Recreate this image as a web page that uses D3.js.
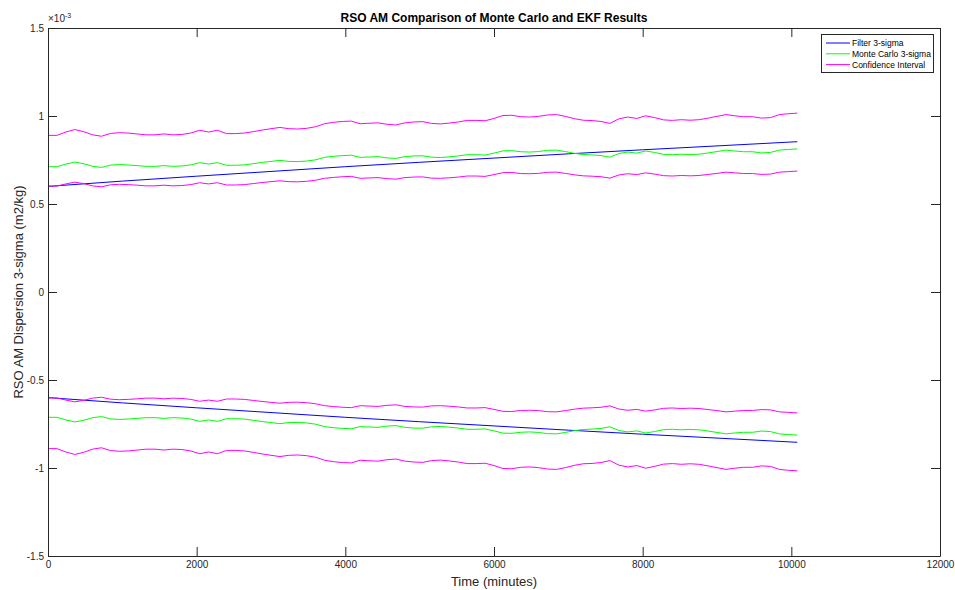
<!DOCTYPE html>
<html>
<head>
<meta charset="utf-8">
<script src="https://cdn.jsdelivr.net/npm/d3@7"></script>
<style>
  html, body { margin: 0; padding: 0; background: #fff; }
  svg { display: block; font-family: "Liberation Sans", Arial, Helvetica, sans-serif; }
</style>
</head>
<body>
<svg id="chart" width="955" height="590"></svg>
<script>
// ---- Data (values in units of 1e-3 m2/kg) ----
const times = [0,120,240,360,480,600,720,840,960,1080,1200,1320,1440,1560,1680,1800,1920,2040,2160,2280,2400,2520,2640,2760,2880,3000,3120,3240,3360,3480,3600,3720,3840,3960,4080,4200,4320,4440,4560,4680,4800,4920,5040,5160,5280,5400,5520,5640,5760,5880,6000,6120,6240,6360,6480,6600,6720,6840,6960,7080,7200,7320,7440,7560,7680,7800,7920,8040,8160,8280,8400,8520,8640,8760,8880,9000,9120,9240,9360,9480,9600,9720,9840,9960,10080];

const mcSigma = [.712,.712,.727,.738,.729,.714,.708,.721,.724,.722,.718,.714,.714,.718,.714,.716,.722,.735,.727,.735,.720,.720,.722,.729,.736,.742,.748,.742,.741,.744,.751,.765,.771,.775,.777,.765,.767,.769,.762,.759,.769,.773,.774,.766,.764,.768,.773,.780,.780,.778,.789,.802,.803,.797,.795,.798,.805,.806,.798,.788,.781,.779,.775,.766,.787,.795,.789,.801,.793,.782,.780,.783,.781,.783,.790,.798,.806,.801,.797,.797,.790,.793,.806,.810,.813];

const ciHigh = [.890,.890,.909,.923,.911,.893,.885,.901,.905,.903,.898,.893,.893,.898,.893,.895,.903,.919,.909,.919,.900,.900,.903,.911,.920,.928,.935,.928,.926,.930,.939,.956,.964,.969,.971,.956,.959,.961,.953,.949,.961,.966,.968,.958,.955,.960,.966,.975,.975,.973,.986,1.003,1.004,.996,.994,.998,1.006,1.008,.998,.985,.976,.974,.969,.958,.984,.994,.986,1.001,.991,.978,.975,.979,.976,.979,.988,.998,1.008,1.001,.996,.996,.988,.991,1.008,1.013,1.016];

const ciLow = [.602,.602,.614,.624,.616,.603,.598,.609,.612,.610,.607,.603,.603,.607,.603,.605,.610,.621,.614,.621,.608,.608,.610,.616,.622,.627,.632,.627,.626,.629,.635,.646,.651,.655,.657,.646,.648,.650,.644,.641,.650,.653,.654,.647,.646,.649,.653,.659,.659,.657,.667,.678,.679,.673,.672,.674,.680,.681,.674,.666,.660,.658,.655,.647,.665,.672,.667,.677,.670,.661,.659,.662,.660,.662,.668,.674,.681,.677,.673,.673,.668,.670,.681,.684,.687];

const filterTimes = [0,1000,2000,3000,4000,5000,6000,7000,8000,9000,10080];
const filterSigma = [.600,.630,.658,.685,.712,.737,.761,.785,.808,.830,.854];

const xTicks = [0,2000,4000,6000,8000,10000,12000];
const yTicks = [-1.5,-1,-0.5,0,0.5,1,1.5];
const yTickLabels = ["-1.5","-1","-0.5","0","0.5","1","1.5"];

const legendNames = ["Filter 3-sigma","Monte Carlo 3-sigma","Confidence Interval"];
const legendColors = ["#0000ff","#00ff00","#ff00ff"];

// ---- Layout ----
const svg = d3.select("#chart");
const L = 48, R = 940, T = 28, B = 556;
const x = d3.scaleLinear().domain([0, 12000]).range([L, R]);
const y = d3.scaleLinear().domain([-1.5, 1.5]).range([B, T]);
const axisColor = "#262626";

// ---- Lines ----
const line = d3.line().x(d => x(d[0])).y(d => y(d[1]));
function draw(ts, vs, sign, color) {
  const pts = ts.map((t, i) => [t, sign * vs[i]]);
  svg.append("path").datum(pts).attr("d", line)
    .attr("fill", "none").attr("stroke", color).attr("stroke-width", 1);
}
[1, -1].forEach(s => {
  draw(filterTimes, filterSigma, s, legendColors[0]);
  draw(times, mcSigma, s, legendColors[1]);
  draw(times, ciHigh, s, legendColors[2]);
  draw(times, ciLow, s, legendColors[2]);
});

// ---- Axes (box with inward ticks) ----
const tickLen = 9;
const ax = svg.append("g");
ax.append("g").attr("transform", `translate(0,${B})`)
  .call(d3.axisBottom(x).tickValues(xTicks).tickFormat(d3.format("d")).tickSizeInner(-tickLen).tickSizeOuter(0).tickPadding(5));
ax.append("g").attr("transform", `translate(0,${T})`)
  .call(d3.axisTop(x).tickValues(xTicks).tickFormat("").tickSizeInner(-tickLen).tickSizeOuter(0));
ax.append("g").attr("transform", `translate(${L},0)`)
  .call(d3.axisLeft(y).tickValues(yTicks).tickFormat((d, i) => yTickLabels[i]).tickSizeInner(-tickLen).tickSizeOuter(0).tickPadding(4));
ax.append("g").attr("transform", `translate(${R},0)`)
  .call(d3.axisRight(y).tickValues(yTicks).tickFormat("").tickSizeInner(-tickLen).tickSizeOuter(0));
ax.selectAll(".domain, line").attr("stroke", axisColor).attr("stroke-width", 1);
ax.selectAll("text").attr("fill", axisColor).attr("font-size", 10)
  .attr("font-family", "'Liberation Sans', Arial, sans-serif");

// exponent label
const ex = svg.append("text").attr("x", L).attr("y", T - 6)
  .attr("font-size", 10).attr("fill", axisColor);
ex.append("tspan").text("\u00d710");
ex.append("tspan").attr("font-size", 7).attr("dy", -4).text("-3");

// ---- Titles ----
svg.append("text").attr("x", (L + R) / 2).attr("y", 22)
  .attr("text-anchor", "middle").attr("font-size", 12).attr("font-weight", "bold")
  .attr("fill", "#000").text("RSO AM Comparison of Monte Carlo and EKF Results");
svg.append("text").attr("x", (L + R) / 2).attr("y", 586)
  .attr("text-anchor", "middle").attr("font-size", 13).attr("fill", "#262626")
  .text("Time (minutes)");
svg.append("text").attr("transform", `translate(23,${(T + B) / 2}) rotate(-90)`)
  .attr("text-anchor", "middle").attr("font-size", 13).attr("fill", "#262626")
  .text("RSO AM Dispersion 3-sigma (m2/kg)");

// ---- Legend ----
const lg = svg.append("g");
lg.append("rect").attr("x", 821.5).attr("y", 34.5).attr("width", 112).attr("height", 38)
  .attr("fill", "#fff").attr("stroke", "#262626").attr("stroke-width", 1);
legendNames.forEach((name, i) => {
  const yy = 43 + i * 10.8;
  lg.append("line").attr("x1", 826).attr("x2", 850).attr("y1", yy).attr("y2", yy)
    .attr("stroke", legendColors[i]).attr("stroke-width", 1);
  lg.append("text").attr("x", 852).attr("y", yy).attr("dy", "0.35em")
    .attr("font-size", 8.5).attr("fill", "#000").text(name);
});
</script>
</body>
</html>
